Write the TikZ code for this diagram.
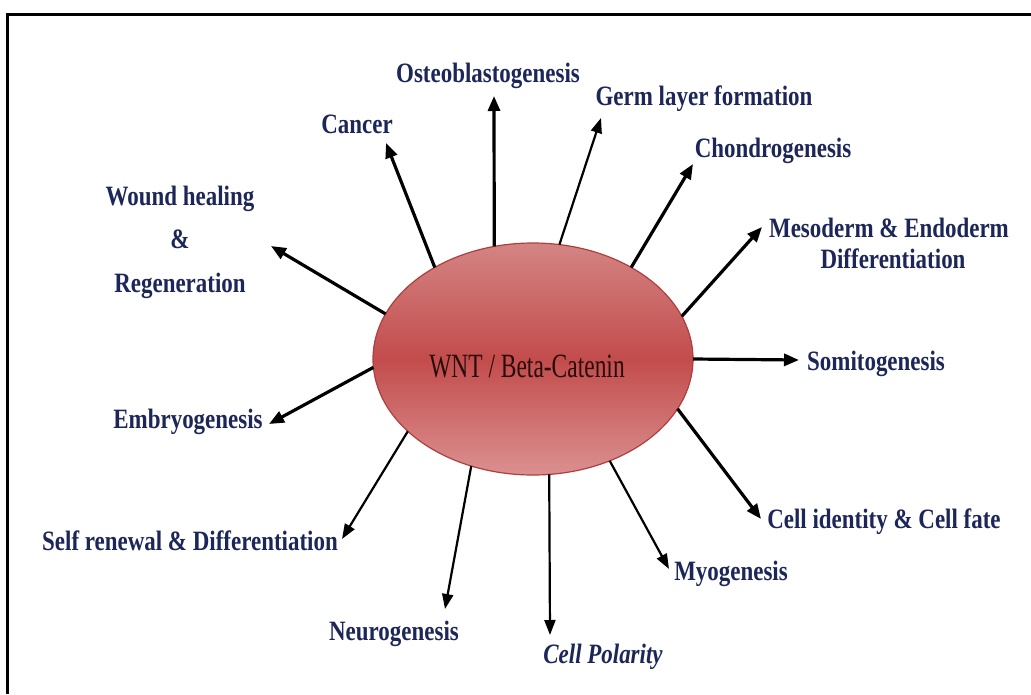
\documentclass[tikz,border=0pt]{standalone}
\usepackage{fontspec}
\usetikzlibrary{arrows.meta,shapes.geometric}
\newfontfamily\labfont[FakeStretch=0.82,UprightFont={* Bold},ItalicFont={* Bold Italic}]{Liberation Serif}
\newfontfamily\cenfont[FakeStretch=0.69]{Liberation Serif}
\definecolor{navy}{RGB}{28,38,88}
\definecolor{ellTop}{RGB}{212,132,132}
\definecolor{ellMid}{RGB}{195,76,76}
\definecolor{ellBot}{RGB}{219,144,144}
\definecolor{ellLine}{RGB}{175,62,62}
\definecolor{cenText}{RGB}{40,12,12}
\begin{document}
\begin{tikzpicture}[x=1pt,y=-1pt,
  lab/.style={font=\labfont\fontsize{28}{43.5}\selectfont, text=navy, inner sep=0pt, anchor=base, align=center},
  thickarr/.style={line width=3.2pt, -{Triangle[length=15pt,width=12pt]}},
  thinarr/.style={line width=2.2pt, -{Triangle[length=15pt,width=11pt]}},
  hub/.style={ellipse, minimum width=320pt, minimum height=232pt, inner sep=0pt, outer sep=0pt,
     draw=ellLine, line width=1.2pt, top color=ellTop, bottom color=ellBot, middle color=ellMid}
]
\useasboundingbox (0,0) rectangle (1031,694);
\fill[white] (0,0) rectangle (1031,694);
\coordinate (fbl) at (7.5,694);
\coordinate (ftl) at (7.5,14);
\coordinate (ftr) at (1031,14);
\draw[line width=3pt] (fbl) -- (ftl) -- (ftr);

\node[hub] (E) at (533,359) {};
\node[font=\cenfont\fontsize{34}{34}\selectfont, text=cenText, inner sep=0pt, anchor=base] (ct) at (527,377) {WNT / Beta-Catenin};

% labels
\node[lab] (osteo) at (488,82) {Osteoblastogenesis};
\node[lab] (cancer) at (357,133) {Cancer};
\node[lab] (wound) at (180,292) {Wound healing\\\&\\Regeneration};
\node[lab] (embryo) at (188,428) {Embryogenesis};
\node[lab] (self) at (190,550) {Self renewal \& Differentiation};
\node[lab] (neuro) at (394,640) {Neurogenesis};
\node[lab] (polar) at (603,663) {\itshape Cell Polarity};
\node[lab] (myo) at (731,580) {Myogenesis};
\node[lab] (ident) at (884,528) {Cell identity \& Cell fate};
\node[lab] (somito) at (876,370) {Somitogenesis};
\node[lab, font=\labfont\fontsize{28}{31}\selectfont] (meso) at (889,268) {Mesoderm \& Endoderm\\\hspace*{8pt}Differentiation};
\node[lab] (chondro) at (773,157) {Chondrogenesis};
\node[lab] (germ) at (704,105) {Germ layer formation};

% arrow tips
\coordinate (tOsteo) at (494,96);
\coordinate (tCancer) at (386,143);
\coordinate (tWound) at (271,246);
\coordinate (tEmbryo) at (269,424);
\coordinate (tSelf) at (342,539);
\coordinate (tNeuro) at (445,609);
\coordinate (tPolar) at (550,635);
\coordinate (tMyo) at (669,569);
\coordinate (tIdent) at (761,519);
\coordinate (tSomito) at (799,360);
\coordinate (tMeso) at (762,227);
\coordinate (tChondro) at (693,164);
\coordinate (tGerm) at (601,118);

\draw[thickarr] (E.109) -- (tOsteo);
\draw[thickarr] (E.137.4) -- (tCancer);
\draw[thickarr] (E.163.6) -- (tWound);
\draw[thickarr] (E.183.7) -- (tEmbryo);
\draw[thinarr] (E.210) -- (tSelf);
\draw[thinarr] (E.240.9) -- (tNeuro);
\draw[thinarr] (E.278.6) -- (tPolar);
\draw[thinarr] (E.307.6) -- (tMyo);
\draw[thickarr] (E.341.6) -- (tIdent);
\draw[thickarr] (E.0) -- (tSomito);
\draw[thickarr] (E.16.3) -- (tMeso);
\draw[thickarr] (E.43.5) -- (tChondro);
\draw[thinarr] (E.77.6) -- (tGerm);
\end{tikzpicture}
\end{document}
